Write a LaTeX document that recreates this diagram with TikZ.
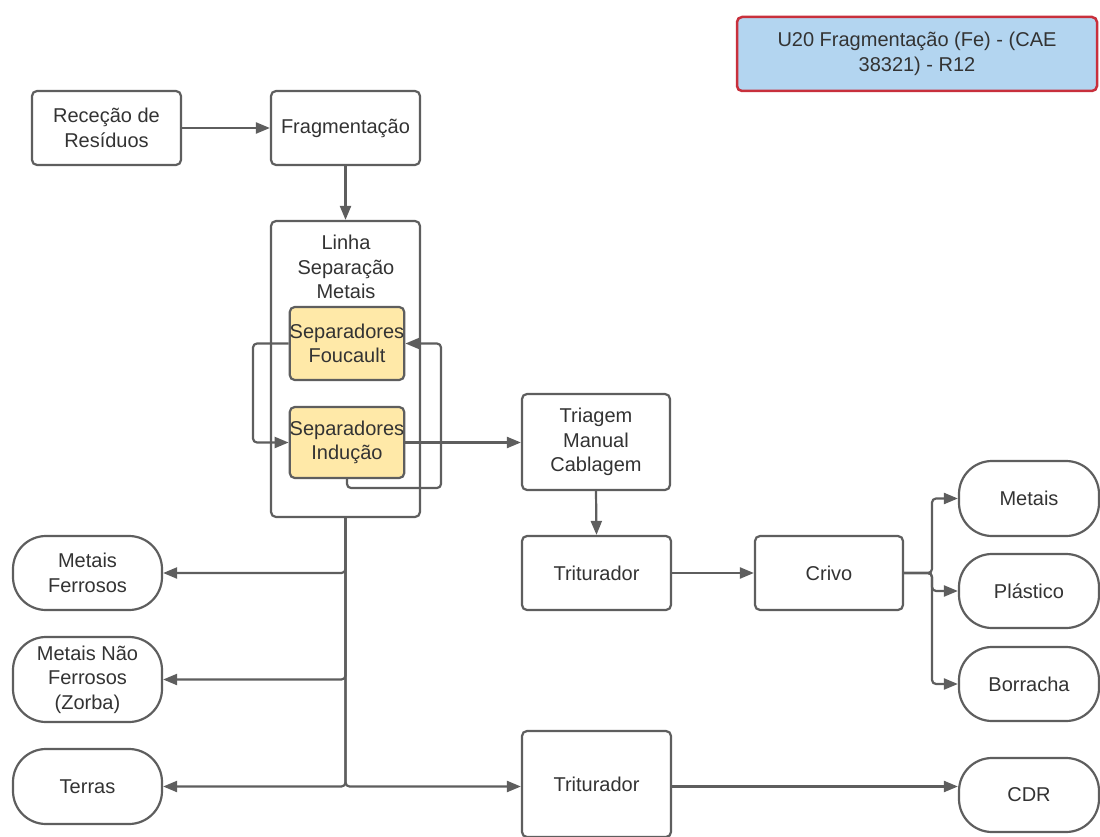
\documentclass[tikz,border=0pt]{standalone}
\usepackage{fontspec}
\setmainfont{Liberation Sans}
\usetikzlibrary{arrows.meta}
\definecolor{linegray}{HTML}{5E5E5E}
\definecolor{txt}{HTML}{333333}
\definecolor{sepfill}{HTML}{FFE9A8}
\definecolor{titlefill}{HTML}{B3D5F0}
\definecolor{titleedge}{HTML}{C8303C}
\begin{document}
\begin{tikzpicture}[x=1pt,y=-1pt,
  font=\fontsize{20}{24.5}\selectfont, text=txt,
  box/.style={draw=linegray, line width=2.2pt, rounded corners=5pt, fill=white,
    align=center, inner sep=0pt},
  term/.style={box, rounded corners=33pt},
  sepbox/.style={box, fill=sepfill},
  conn/.style={draw=linegray, line width=2.2pt, rounded corners=4pt,
    -{Triangle[length=14pt,width=11pt]}}]
\useasboundingbox (0,0) rectangle (1100,837);

% title
\node[box, fill=titlefill, draw=titleedge, line width=2.5pt,
  minimum width=360pt, minimum height=74pt] (title) at (917,54)
  {U20 Fragmentação (Fe) - (CAE\\38321) - R12};

% main line
\node[box, minimum width=149pt, minimum height=74pt] (rec) at (106.5,128) {Receção de\\Resíduos};
\node[box, minimum width=149pt, minimum height=74pt] (frag) at (345.5,128) {Fragmentação};
\node[box, minimum width=149pt, minimum height=296pt] (linha) at (345.5,369) {};
\node[align=center] (linhaT) at (346,267) {Linha\\Separação\\Metais};

% separators inside the metal line
\node[sepbox, minimum width=112pt, minimum height=73pt] (fouc) at (347,343.5) {Separadores\\Foucault};
\node[sepbox, minimum width=112pt, minimum height=71pt] (indu) at (347,442.5) {Separadores\\Indução};

% recirculation loops between the separators
\draw[conn] (fouc.west) -- (253,343.5) |- (indu.west);
\draw[conn] (indu.south) |- (441,488) |- (fouc.east);

% right-hand chain
\node[box, minimum width=148pt, minimum height=96pt] (triag) at (596,442) {Triagem\\Manual\\Cablagem};
\node[box, minimum width=149pt, minimum height=74pt] (trit1) at (596.5,573) {Triturador};
\node[box, minimum width=148pt, minimum height=74pt] (crivo) at (829,573) {Crivo};
\node[term, minimum width=140pt, minimum height=75pt] (metR) at (1029,498.5) {Metais};
\node[term, minimum width=140pt, minimum height=74pt] (plas) at (1029,591) {Plástico};
\node[term, minimum width=140pt, minimum height=74pt] (borr) at (1029,684) {Borracha};
\node[box, minimum width=149pt, minimum height=106pt] (trit2) at (596.5,784) {Triturador};
\node[term, minimum width=140pt, minimum height=74pt] (cdr) at (1029,795) {CDR};

% outputs on the left
\node[term, minimum width=149pt, minimum height=74pt] (mf) at (87.5,573) {Metais\\Ferrosos};
\node[term, minimum width=149pt, minimum height=85pt] (mnf) at (87.5,679.5) {Metais Não\\Ferrosos\\(Zorba)};
\node[term, minimum width=149pt, minimum height=75pt] (terras) at (87.5,786.5) {Terras};

% connectors
\draw[conn] (rec.east) -- (frag.west);
\draw[conn] (frag.south) -- (linha.north);
\draw[conn] (indu.east) -- (triag.west |- indu.east);
\draw[conn] (triag.south) -- (trit1.north);
\draw[conn] (trit1.east) -- (crivo.west);
\draw[conn] (crivo.east) -- (932,573) |- (metR.west);
\draw[conn] (crivo.east) -- (932,573) |- (plas.west);
\draw[conn] (crivo.east) -- (932,573) |- (borr.west);
\draw[conn] (linha.south) |- (mf.east);
\draw[conn] (linha.south) |- (mnf.east);
\draw[conn] (linha.south) |- (terras.east);
\draw[conn] (linha.south) |- (trit2.west |- terras.east);
\draw[conn] (trit2.east |- terras.east) -- (cdr.west |- terras.east);
\end{tikzpicture}
\end{document}
